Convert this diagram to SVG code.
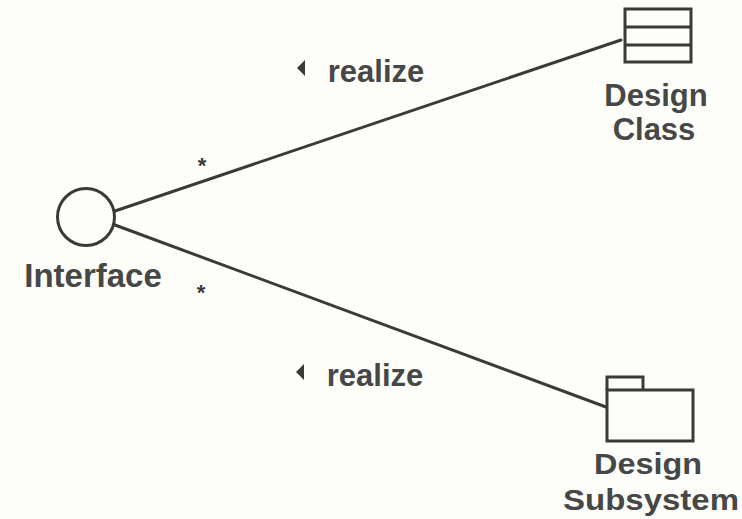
<svg xmlns="http://www.w3.org/2000/svg" width="742" height="519" viewBox="0 0 742 519">
<style>
.bg{fill:#fdfdf9}
.shape{fill:none;stroke:#3a3a3a;stroke-width:3}
.conn{fill:none;stroke:#3a3a3a;stroke-width:3;stroke-linecap:round}
.lbl{font-family:"Liberation Sans",Arial,sans-serif;font-weight:bold;fill:#474747;text-anchor:middle}
.mult{font-family:"Liberation Sans",Arial,sans-serif;font-weight:bold;fill:#3a3a3a;text-anchor:middle;font-size:22px}
.tri{fill:#3a3a3a}
</style>
<rect class="bg" x="0" y="0" width="742" height="519"/>
<g id="connectors">
  <line class="conn" x1="115" y1="211" x2="621" y2="40"/>
  <line class="conn" x1="115" y1="225" x2="606" y2="407"/>
  <text class="mult" x="202" y="173">*</text>
  <text class="mult" x="201" y="300">*</text>
  <polygon class="tri" points="297,68 305,60 305,76"/>
  <text class="lbl" x="376" y="82" font-size="31">realize</text>
  <polygon class="tri" points="296,372 304,364 304,380"/>
  <text class="lbl" x="375" y="386" font-size="31">realize</text>
</g>
<g id="interface">
  <circle class="shape" cx="86" cy="217" r="28.5"/>
  <text class="lbl" x="93" y="287" font-size="33">Interface</text>
</g>
<g id="design-class">
  <rect class="shape" x="625" y="9" width="66" height="53"/>
  <line class="shape" x1="625" y1="27" x2="691" y2="27"/>
  <line class="shape" x1="625" y1="45" x2="691" y2="45"/>
  <text class="lbl" x="656" y="106" font-size="31">Design</text>
  <text class="lbl" x="654" y="140" font-size="31">Class</text>
</g>
<g id="design-subsystem">
  <path class="shape" d="M607,390 V377 H643 V390"/>
  <rect class="shape" x="607" y="390" width="86" height="51"/>
  <text class="lbl" x="648" y="474" font-size="30" textLength="108" lengthAdjust="spacingAndGlyphs">Design</text>
  <text class="lbl" x="651" y="510" font-size="30" textLength="176" lengthAdjust="spacingAndGlyphs">Subsystem</text>
</g>
</svg>
